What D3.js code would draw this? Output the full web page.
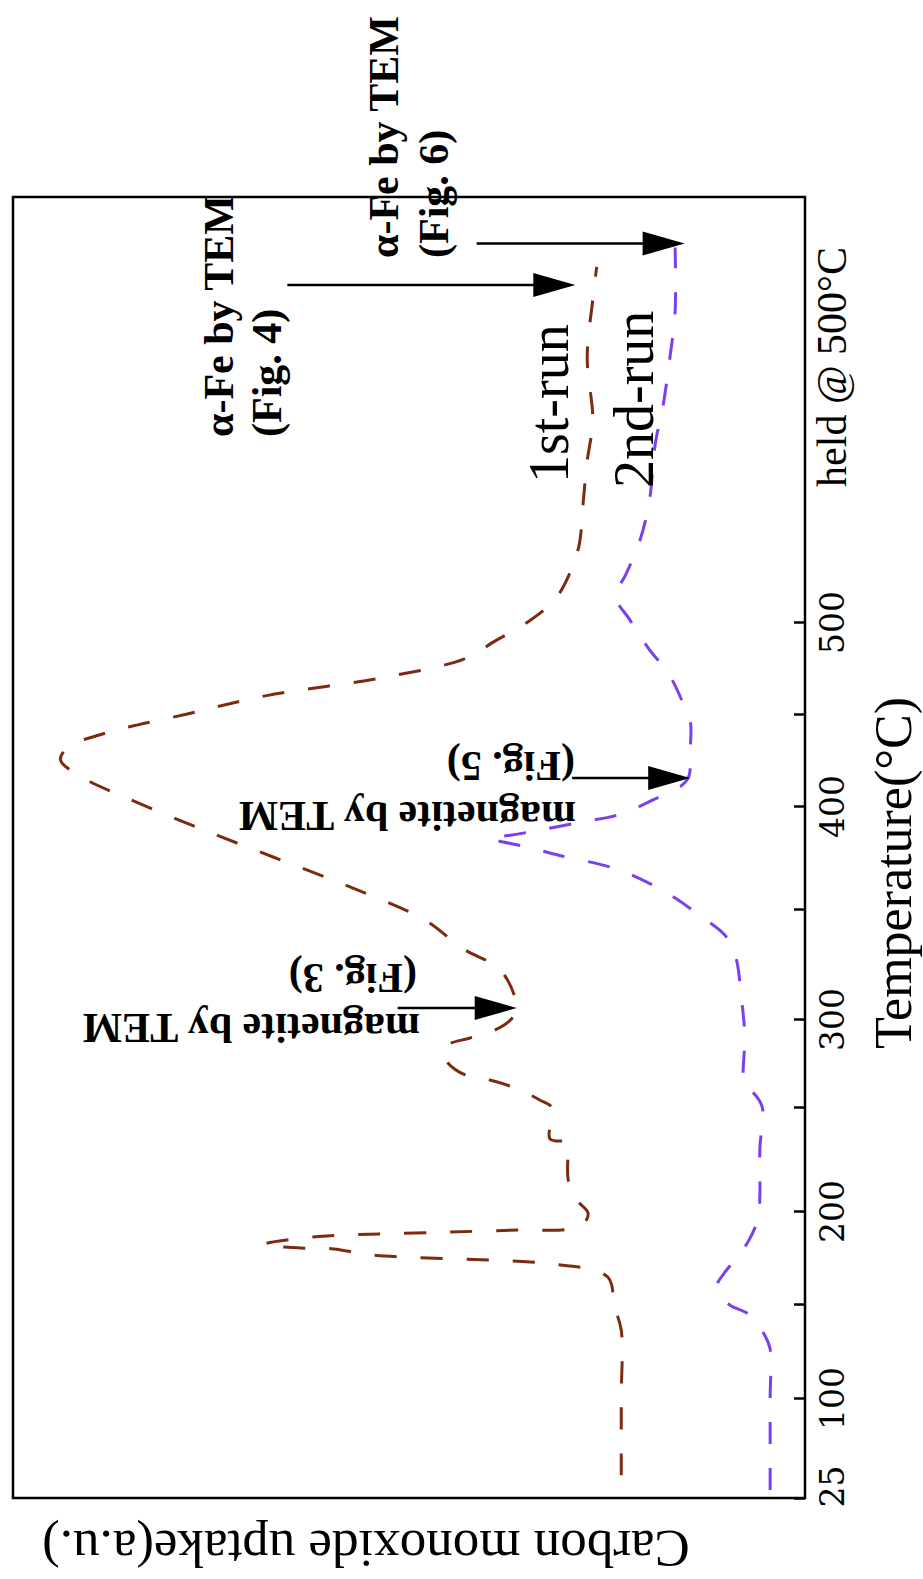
<!DOCTYPE html>
<html>
<head>
<meta charset="utf-8">
<script src="https://cdn.jsdelivr.net/npm/d3@7"></script>
<style>
  body { margin: 0; background: #fff; }
  svg { display: block; }
</style>
</head>
<body>
<div id="my_dataviz"></div>
<script>
// program position: 25-500 is the ramp in °C, anything above 500 is the hold at 500°C
const firstRunTemp = [42, 100, 136, 149.5, 160, 164.5, 168.8, 170.4, 172.6, 176.4, 179.6, 180.2, 182, 185.5, 187.1, 187.7, 188.7, 189.8, 190.4, 194, 199, 206, 215, 229, 233, 234.7, 249.5, 254, 260.8, 265.3, 268.2, 275.6, 281.3, 285.2, 289.2, 293.2, 299.4, 305, 322, 332, 345, 360, 375, 390, 405, 415, 425, 432, 440, 450, 460, 470, 480, 490, 500, 512, 527, 540, 562, 583, 604, 636, 666, 683];
const firstRunUptake = [23.2, 23.2, 23.2, 24.1, 24.4, 24.9, 27.1, 29.7, 34.7, 54.7, 59.5, 64.1, 68.4, 63.3, 58.5, 53.7, 44.8, 36.0, 29.7, 27.8, 27.4, 29.0, 29.9, 29.9, 29.9, 32.2, 31.9, 33.5, 36.6, 39.8, 42.9, 45.2, 45.7, 45.2, 42.3, 39.4, 37.2, 36.4, 38.4, 43.2, 48, 57, 67, 77, 86, 91, 94, 93, 88, 78, 68, 53, 43, 39, 35, 31.5, 29.5, 28.5, 28, 27.5, 26.8, 27.5, 26.8, 26.3];

const secondRunTemp = [31, 100, 126, 133.5, 144, 149.5, 155, 160.2, 166, 172, 183.4, 196.4, 207.7, 230, 250, 258, 262, 290.8, 308.6, 329, 338, 347, 356.8, 368.9, 376, 380, 384.4, 385.8, 388.3, 392.1, 395.6, 403.3, 414.1, 430.4, 446.7, 455, 471.8, 485.3, 501.6, 513, 524.7, 540, 561, 592, 612, 638, 660, 693];
const secondRunUptake = [4.4, 4.4, 4.4, 5.1, 6.9, 9.5, 10.7, 11.1, 10.3, 9.2, 7.2, 5.9, 5.7, 5.7, 5.4, 6.5, 7.6, 7.6, 8.0, 8.8, 10.1, 13.3, 17, 23.4, 31, 35, 39.8, 37.2, 33.5, 28.4, 23.7, 19.2, 14.9, 14.5, 14.5, 15.3, 17.2, 19.7, 22.2, 23.9, 22.6, 21, 19.7, 18.9, 17.9, 17.0, 16.4, 16.4];

const tickTemps = [25, 100, 150, 200, 250, 300, 350, 400, 450, 500];
const tickLabels = ["25", "100", "", "200", "", "300", "", "400", "", "500"];

// TEM annotations: which point of the curve each arrow points at
const noteLines = [["α-Fe by TEM", "(Fig. 4)"], ["α-Fe by TEM", "(Fig. 6)"], ["magnetite by TEM", "(Fig. 3)"], ["magnetite by TEM", "(Fig. 5)"]];
const noteTemp = [673.6, 695, 305, 415.2];
const noteUptake = [29, 15.2, 36.4, 14.5];

const W = 923, H = 1579;
const frame = {left: 13, right: 805, top: 197, bottom: 1498};

const svg = d3.select("#my_dataviz")
  .append("svg")
    .attr("width", W)
    .attr("height", H);

// the figure is turned on its side: temperature runs up the page, uptake grows to the left
// hand drawn axis, tick spacing isn't even so the scale is piecewise
const t = d3.scaleLinear()
  .domain([25, 100, 150, 200, 250, 300, 350, 400, 450, 500, 719])
  .range([1498, 1398, 1304, 1211, 1107, 1019, 909, 806, 714, 622, 197]);

const u = d3.scaleLinear()
  .domain([0, 100])
  .range([frame.right, frame.left]);

const serif = "'Liberation Serif', 'Times New Roman', serif";

// frame
svg.append("rect")
  .attr("x", frame.left)
  .attr("y", frame.top)
  .attr("width", frame.right - frame.left)
  .attr("height", frame.bottom - frame.top)
  .attr("fill", "none")
  .attr("stroke", "#000")
  .attr("stroke-width", 2.5);

// temperature axis on the right edge, ticks pointing in
const axis = svg.append("g")
  .attr("transform", `translate(${frame.right},0)`)
  .call(d3.axisRight(t)
    .tickValues(tickTemps)
    .tickSize(-11)
    .tickFormat((d, i) => tickLabels[i]));
axis.select(".domain").remove();
axis.selectAll(".tick line").attr("stroke", "#000").attr("stroke-width", 2.5);
axis.selectAll(".tick text")
  .attr("x", null).attr("dy", null)
  .attr("text-anchor", "middle")
  .attr("transform", d => `translate(39,${d === 25 ? -12 : 0}) rotate(-90)`)
  .attr("fill", "#000")
  .style("font-family", "'DejaVu Serif', serif")
  .style("font-size", "33px");

svg.append("text")
  .attr("transform", `translate(846,367) rotate(-90)`)
  .attr("text-anchor", "middle")
  .style("font-family", serif)
  .style("font-size", "42px")
  .text("held @ 500°C");

svg.append("text")
  .attr("transform", `translate(911,873) rotate(-90)`)
  .attr("text-anchor", "middle")
  .style("font-family", serif)
  .style("font-size", "52px")
  .text("Temperature(°C)");

svg.append("text")
  .attr("transform", `translate(366,1531) rotate(180)`)
  .attr("text-anchor", "middle")
  .style("font-family", serif)
  .style("font-size", "53px")
  .text("Carbon monoxide uptake(a.u.)");

// curves
const line = d3.line()
  .x(d => u(d[1]))
  .y(d => t(d[0]))
  .curve(d3.curveCatmullRom.alpha(0.5));

svg.append("path")
  .datum(d3.zip(firstRunTemp, firstRunUptake))
  .attr("d", line)
  .attr("fill", "none")
  .attr("stroke", "#7a2b10")
  .attr("stroke-width", 3)
  .attr("stroke-dasharray", "22,24");

svg.append("path")
  .datum(d3.zip(secondRunTemp, secondRunUptake))
  .attr("d", line)
  .attr("fill", "none")
  .attr("stroke", "#7b3ff0")
  .attr("stroke-width", 3)
  .attr("stroke-dasharray", "22,24");

// run labels
svg.append("text")
  .attr("transform", `translate(568,483) rotate(-90)`)
  .style("font-family", serif)
  .style("font-size", "56px")
  .text("1st-run");
svg.append("text")
  .attr("transform", `translate(653,488) rotate(-90)`)
  .style("font-family", serif)
  .style("font-size", "56px")
  .text("2nd-run");

// annotations: arrow length and where the two text lines sit
const noteLayout = [
  {len: 288, lines: [[233, 437], [281, 437]], rot: -90},
  {len: 208, lines: [[398, 258], [448, 258]], rot: -90},
  {len: 119, lines: [[420, 1014], [417, 964]], rot: 180},
  {len: 118, lines: [[576, 802], [575, 752]], rot: 180}
];
const head = 42, half = 12;

noteLines.forEach((txt, i) => {
  const x1 = u(noteUptake[i]), y1 = t(noteTemp[i]);
  const L = noteLayout[i];
  svg.append("line")
    .attr("x1", x1 - L.len).attr("y1", y1)
    .attr("x2", x1 - head + 2).attr("y2", y1)
    .attr("stroke", "#000")
    .attr("stroke-width", 2.5);
  svg.append("path")
    .attr("d", `M${x1},${y1}L${x1 - head},${y1 - half}L${x1 - head},${y1 + half}Z`)
    .attr("fill", "#000");
  txt.forEach((s, j) => {
    svg.append("text")
      .attr("transform", `translate(${L.lines[j][0]},${L.lines[j][1]}) rotate(${L.rot})`)
      .style("font-family", serif)
      .style("font-weight", "bold")
      .style("font-size", "42px")
      .text(s);
  });
});
</script>
</body>
</html>
